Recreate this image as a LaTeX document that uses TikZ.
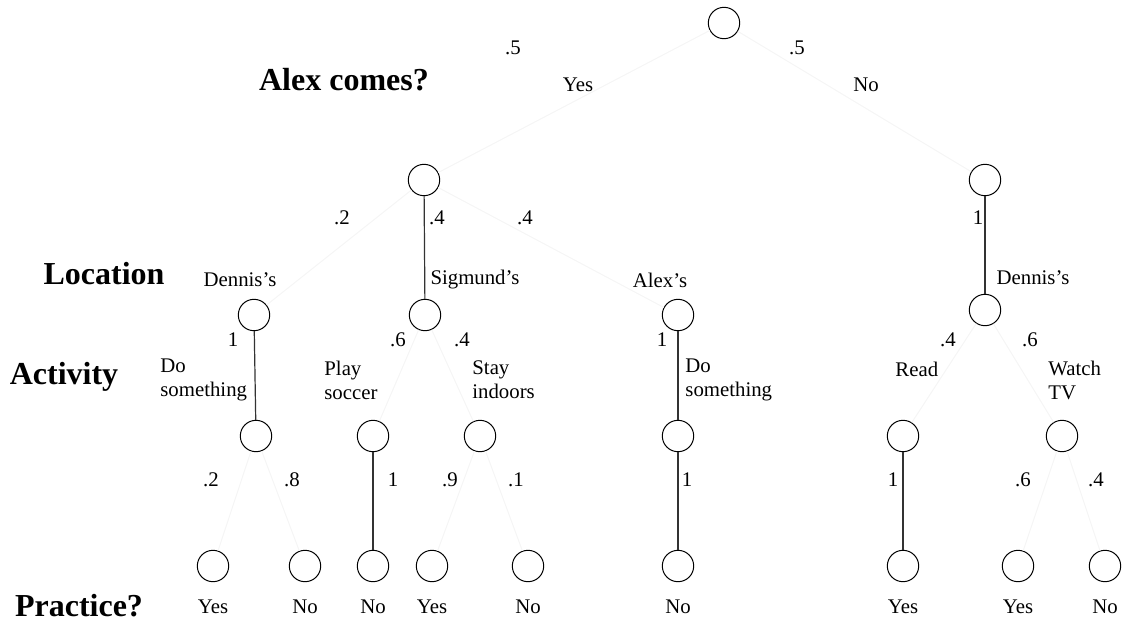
\documentclass[tikz,border=0pt]{standalone}
\usepackage{fontspec}
\setmainfont{Liberation Serif}
\begin{document}
\begin{tikzpicture}[x=0.5pt,y=-0.5pt,
			chance/.style={circle,draw=black,line width=0.5pt,inner sep=0pt,minimum size=15.7pt},
			faint/.style={draw=black!4,line width=0.5pt},
			sure/.style={draw=black!80,line width=0.6pt},
			txt/.style={font=\fontsize{10.4}{12}\selectfont,inner sep=0pt,align=left},
			head/.style={font=\fontsize{16}{18}\selectfont\bfseries,inner sep=0pt}]
			\useasboundingbox (0,0) rectangle (1128,622);
			% chance nodes, level by level
			\foreach \n/\x/\y in {r/724/23,a/424/180,b/985/180,
				d/254/315,s/425/315,x/678/315,t/985/310,
				e1/256/436,e2/373/436,e3/480/436,e4/678/436,e5/903/436,e6/1062/436}
			\node[chance] (\n) at (\x,\y) {};
			\foreach \n/\x/\t in {l1/213/Yes,l2/305/No,l3/373/No,l4/432/Yes,l5/528/No,
				l6/678/No,l7/903/Yes,l8/1018/Yes,l9/1105/No}
			{\node[chance] (\n) at (\x,566) {};
			\node[txt] (\n t) at (\x,607) {\t};}
			% branches
			\foreach \p/\c in {r/a,r/b,a/d,a/x,s/e2,s/e3,t/e5,t/e6,e1/l1,e1/l2,e3/l4,e3/l5,e6/l8,e6/l9}
			\draw[faint] (\p) -- (\c);
			\foreach \p/\c in {a/s,b/t,d/e1,x/e4,e2/l3,e4/l6,e5/l7}
			\draw[sure] (\p) -- (\c);
			% probabilities
			\foreach \n/\x/\y/\t in {p1/513/48/.5,p2/797/48/.5,p3/342/218/.2,p4/437/218/.4,p5/525/218/.4,
				p6/978/218/1,p7/233/340/1,p8/398/340/.6,p9/462/340/.4,p10/662/340/1,
				p11/948/340/.4,p12/1030/340/.6,p13/211/480/.2,p14/292/480/.8,p15/393/480/1,
				p16/450/480/.9,p17/516/480/.1,p18/687/480/1,p19/893/480/1,p20/1023/480/.6,
				p21/1096/480/.4}
			\node[txt] (\n) at (\x,\y) {\t};
			% outcome labels
			\node[txt] (yes) at (578,85) {Yes};
			\node[txt] (no) at (866,85) {No};
			\node[txt] (loc1) at (240,280) {Dennis's};
			\node[txt] (loc2) at (475,280) {Sigmund's};
			\node[txt] (loc3) at (660,280) {Alex's};
			\node[txt] (loc4) at (1033,278) {Dennis's};
			\node[txt,anchor=west] (act1) at (160,380) {Do\\something};
			\node[txt,anchor=west] (act2) at (324,380) {Play\\soccer};
			\node[txt,anchor=west] (act3) at (472,380) {Stay\\indoors};
			\node[txt,anchor=west] (act4) at (685,380) {Do\\something};
			\node[txt,anchor=west] (act5) at (895,369) {Read};
			\node[txt,anchor=west] (act6) at (1048,380) {Watch\\TV};
			% row headings
			\node[head] (hcome) at (344,80) {Alex comes?};
			\node[head] (hloc) at (104,274) {Location};
			\node[head] (hact) at (64,377) {Activity};
			\node[head] (hprac) at (79,606) {Practice?};
		\end{tikzpicture}
\end{document}
